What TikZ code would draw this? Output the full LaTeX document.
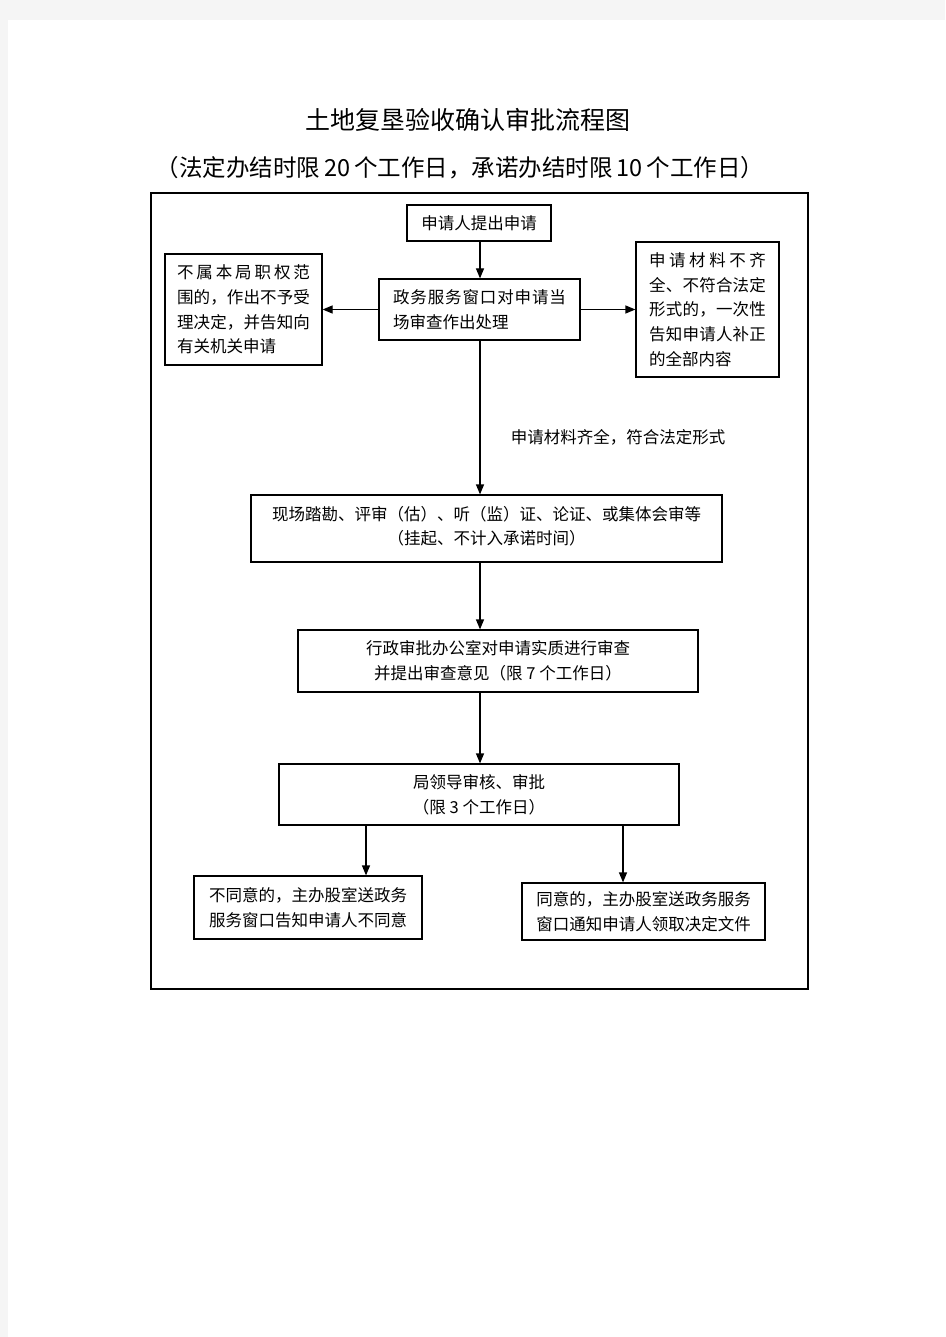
\documentclass[tikz,border=0pt]{standalone}
\usepackage{fontspec}
\setmainfont{Noto Sans CJK SC}
\usetikzlibrary{arrows.meta}
\newcommand{\jline}[2]{\makebox[#1][s]{#2}}
\newcommand{\lline}[2]{\makebox[#1][l]{#2}}
\begin{document}
\begin{tikzpicture}[x=1pt,y=-1pt,
  every node/.style={font=\fontsize{16.5}{24.7}\selectfont, inner sep=0pt},
  box/.style={draw, line width=1.2pt, align=center},
  arr/.style={-{Triangle[length=10pt,width=8pt]}, line width=1.2pt},
  frame/.style={draw, line width=1.2pt}]
\useasboundingbox (0,0) rectangle (945,1337);
\fill[black!4] (0,0) rectangle (945,1337);
\fill[white] (8,20) rectangle (945,1337);

\node[font=\fontsize{25}{30}\selectfont] (title) at (468,120) {土地复垦验收确认审批流程图};
\node[font=\fontsize{23.5}{28}\selectfont] (sub) at (460,168) {（法定办结时限\,20\,个工作日，承诺办结时限\,10\,个工作日）};

\draw[frame] (151,193) rectangle (808,989);

\node[box, minimum width=144, minimum height=36] (b1) at (479,223) {申请人提出申请};
\node[box, minimum width=201, minimum height=61, align=left] (b2) at (479.5,309.5)
  {\jline{173pt}{政\hfil 务\hfil 服\hfil 务\hfil 窗\hfil 口\hfil 对\hfil 申\hfil 请\hfil 当}\\
   \lline{173pt}{场审查作出处理}};
\node[box, minimum width=157, minimum height=111, align=left] (bl) at (243.5,309.5)
  {\jline{133pt}{不\hfil 属\hfil 本\hfil 局\hfil 职\hfil 权\hfil 范}\\
   \jline{133pt}{围\hfil 的\hfil ，\hfil 作\hfil 出\hfil 不\hfil 予\hfil 受}\\
   \jline{133pt}{理\hfil 决\hfil 定\hfil ，\hfil 并\hfil 告\hfil 知\hfil 向}\\
   \lline{133pt}{有关机关申请}};
\node[box, minimum width=143, minimum height=135, align=left] (br) at (707.5,309.5)
  {\jline{117pt}{申\hfil 请\hfil 材\hfil 料\hfil 不\hfil 齐}\\
   \jline{117pt}{全\hfil 、\hfil 不\hfil 符\hfil 合\hfil 法\hfil 定}\\
   \jline{117pt}{形\hfil 式\hfil 的\hfil ，\hfil 一\hfil 次\hfil 性}\\
   \jline{117pt}{告\hfil 知\hfil 申\hfil 请\hfil 人\hfil 补\hfil 正}\\
   \lline{117pt}{的全部内容}};
\node (lab) at (618,437) {申请材料齐全，符合法定形式};
\node[box, minimum width=471, minimum height=67, text depth=6pt] (b3) at (486.5,528.5)
  {现场踏勘、评审（估）、听（监）证、论证、或集体会审等\\（挂起、不计入承诺时间）};
\node[box, minimum width=400, minimum height=62] (b4) at (498,661)
  {行政审批办公室对申请实质进行审查\\并提出审查意见（限 7 个工作日）};
\node[box, minimum width=400, minimum height=61] (b5) at (479,794.5)
  {局领导审核、审批\\（限 3 个工作日）};
\node[box, minimum width=228, minimum height=63] (b6) at (308,907.5)
  {不同意的，主办股室送政务\\服务窗口告知申请人不同意};
\node[box, minimum width=243, minimum height=57] (b7) at (643.5,911.5)
  {同意的，主办股室送政务服务\\窗口通知申请人领取决定文件};

\coordinate (cx) at (480,0);
\coordinate (c6) at (366,0);
\coordinate (c7) at (623,0);
\draw[arr] (b1.south -| cx) -- (b2.north -| cx);
\draw[arr] (b2.west) -- (bl.east |- b2.west);
\draw[arr] (b2.east) -- (br.west |- b2.east);
\draw[arr] (b2.south -| cx) -- (b3.north -| cx);
\draw[arr] (b3.south -| cx) -- (b4.north -| cx);
\draw[arr] (b4.south -| cx) -- (b5.north -| cx);
\draw[arr] (b5.south -| c6) -- (b6.north -| c6);
\draw[arr] (b5.south -| c7) -- (b7.north -| c7);
\end{tikzpicture}
\end{document}
